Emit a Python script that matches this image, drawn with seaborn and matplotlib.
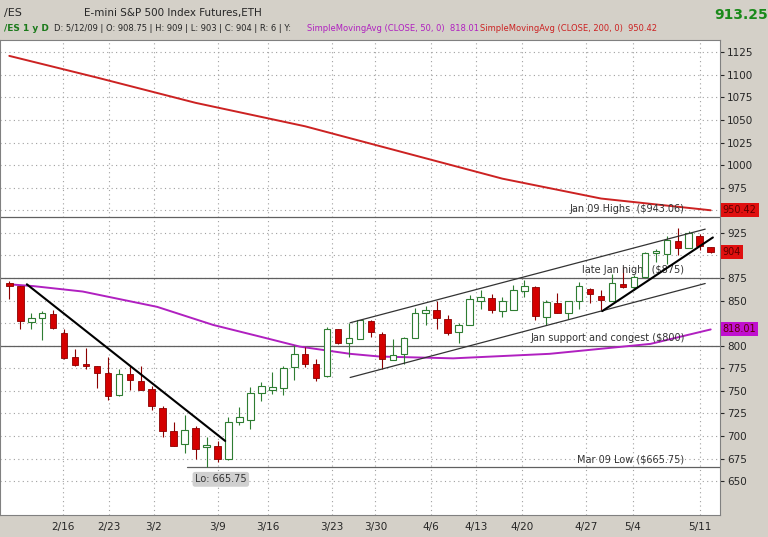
import numpy as np
import pandas as pd
import matplotlib
matplotlib.use("Agg")
import matplotlib.pyplot as plt
import seaborn as sns

opens  = [869,866,826,831,835,814,787,780,778,770,745,769,761,752,731,705,691,709,688,689,674,716,718,748,751,753,776,791,780,766,818,803,807,827,813,784,791,808,836,840,830,815,823,849,853,838,839,861,865,832,847,836,849,863,855,850,868,865,876,903,902,916,908,921,909]
closes = [866,827,831,836,820,786,779,778,770,744,769,762,751,733,706,689,707,686,690,675,716,721,748,755,754,775,791,780,764,818,803,808,828,815,785,790,809,836,840,831,814,823,852,854,840,849,862,866,833,848,836,849,866,857,851,869,865,876,903,905,917,908,925,910,904]
highs  = [872,866,836,838,840,818,796,797,778,787,774,778,778,755,733,715,723,711,699,694,721,732,754,760,771,777,801,799,785,821,819,825,829,829,815,807,810,842,844,849,834,825,856,862,857,854,867,873,866,851,858,850,871,864,862,879,887,878,904,907,921,930,927,924,909]
lows   = [852,819,819,806,819,785,777,774,753,740,744,751,751,729,699,689,681,674,666,671,673,712,708,739,746,745,762,776,761,765,802,787,807,810,774,784,780,808,823,818,812,803,823,841,836,832,839,854,829,823,836,830,841,847,839,850,864,862,876,893,891,900,908,906,903]

sma200_idx = [0,8,17,27,36,45,54,64]
sma200_val = [1121,1097,1069,1043,1014,985,963,950]
sma50_idx = [0,2.2,6.7,13.5,18.6,22.9,26.5,31.1,33.8,40.5,49.3,58.5,64]
sma50_val = [868,866,860,843,823,810,799,791,788,786,791,802,818]

tick_pos = [4.9,9.1,13.2,19.0,23.6,29.4,33.4,38.5,42.6,46.8,52.6,56.9,63.0]
tick_lab = ["2/16","2/23","3/2","3/9","3/16","3/23","3/30","4/6","4/13","4/20","4/27","5/4","5/11"]

levels = [943.06, 875, 800]
level_text = ["Jan 09 Highs  ($943.06)", "late Jan highs ($875)", "Jan support and congest ($800)"]

sns.set_style("white")
plt.rcParams['font.family'] = ['DejaVu Sans']

fig = plt.figure(figsize=(7.68, 5.37), dpi=100)
fig.patch.set_facecolor("#d4d0c8")
ax = fig.add_axes([0.0, 0.041, 0.9375, 0.884])
ax.set_facecolor("white")

n = len(opens)
x = np.arange(n)
o = np.array(opens); c = np.array(closes)
up = c >= o
ax.vlines(x[up], np.array(lows)[up], np.array(highs)[up], color="#2e7d32", lw=0.8, zorder=3)
ax.vlines(x[~up], np.array(lows)[~up], np.array(highs)[~up], color="#8b0000", lw=0.8, zorder=3)
ax.bar(x[up], (c - o)[up], bottom=o[up], width=0.6, color="white", edgecolor="#2e7d32", lw=0.8, zorder=4)
ax.bar(x[~up], (o - c)[~up], bottom=c[~up], width=0.6, color="#d40000", edgecolor="#8b0000", lw=0.6, zorder=4)

df200 = pd.DataFrame({"i": sma200_idx, "v": sma200_val})
df50 = pd.DataFrame({"i": sma50_idx, "v": sma50_val})
sns.lineplot(data=df200, x="i", y="v", ax=ax, color="#cc2222", lw=1.4, zorder=2)
sns.lineplot(data=df50, x="i", y="v", ax=ax, color="#b020c0", lw=1.4, zorder=2)

for lv in levels:
    ax.axhline(lv, color="#606060", lw=0.9, zorder=1)
ax.plot([16.2, 64.85], [665.75, 665.75], color="#606060", lw=0.9)

ax.plot([1.6, 19.7], [868, 694.5], color="black", lw=1.5, zorder=5)
ax.plot([31.1, 63.5], [825.4, 929.1], color="#333333", lw=0.9, zorder=5)
ax.plot([31.1, 63.5], [764.8, 868.9], color="#333333", lw=0.9, zorder=5)
ax.plot([54.1, 64.2], [838.3, 919.9], color="black", lw=1.5, zorder=5)

ax.set_xlim(-0.85, 64.85)
ax.set_ylim(612.5, 1138.3)
ax.grid(True, color="#a0a0a0", ls=(0, (1, 3)), lw=0.8)
ax.set_xticks(tick_pos)
ax.set_xticklabels(tick_lab, fontsize=7.5)
yt = np.arange(650, 1126, 25)
ax.set_yticks(yt)
ax.set_yticklabels(["" if v in (950, 900, 825) else str(v) for v in yt])
ax.yaxis.tick_right()
ax.tick_params(axis="y", labelsize=7.5, length=3, pad=2)
ax.tick_params(axis="x", length=3, pad=2)
ax.set_xlabel(""); ax.set_ylabel("")
for s in ax.spines.values():
    s.set_color("#808080")

tx = 61.6
for lv, t in zip(levels, level_text):
    ax.text(tx, lv + 3, t, ha="right", va="bottom", fontsize=7, color="#333333")
ax.text(tx, 668, "Mar 09 Low ($665.75)", ha="right", va="bottom", fontsize=7, color="#333333")
ax.text(19.3, 652, "Lo: 665.75", ha="center", va="center", fontsize=7, color="#333333",
        bbox=dict(boxstyle="round,pad=0.25", fc="#d0d0d0", ec="none"))
for v, col, lab in [(950.42, "#e01010", "950.42"), (904, "#e01010", "904"), (818.01, "#c010d0", "818.01")]:
    ax.text(65.1, v, lab, ha="left", va="center", fontsize=7, color="#600000",
            bbox=dict(boxstyle="square,pad=0.2", fc=col, ec="none"), clip_on=False)

fig.text(0.005, 0.985, "/ES", fontsize=8, va="top")
fig.text(0.11, 0.985, "E-mini S&P 500 Index Futures,ETH", fontsize=7.5, va="top")
fig.text(0.93, 0.985, "913.25", fontsize=10, va="top", color="#1a8a1a", weight="bold")
fig.text(0.005, 0.955, "/ES 1 y D", fontsize=6.5, va="top", color="#1a7a1a", weight="bold")
fig.text(0.07, 0.955, "D: 5/12/09 | O: 908.75 | H: 909 | L: 903 | C: 904 | R: 6 | Y:", fontsize=6, va="top")
fig.text(0.40, 0.955, "SimpleMovingAvg (CLOSE, 50, 0)  818.01", fontsize=6, va="top", color="#b020c0")
fig.text(0.625, 0.955, "SimpleMovingAvg (CLOSE, 200, 0)  950.42", fontsize=6, va="top", color="#cc2222")

fig.savefig("out.png", dpi=100, facecolor=fig.get_facecolor())
